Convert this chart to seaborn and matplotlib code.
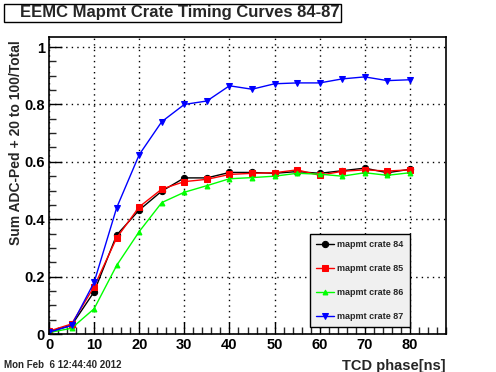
import matplotlib
matplotlib.use('Agg')
import matplotlib.pyplot as plt
from matplotlib.ticker import MultipleLocator
import seaborn as sns
import pandas as pd

# TCD phase scan values
phase = [0, 5, 10, 15, 20, 25, 30, 35, 40, 45, 50, 55, 60, 65, 70, 75, 80]
crate84 = [0.008, 0.030, 0.147, 0.345, 0.432, 0.498, 0.544, 0.544, 0.563, 0.563, 0.560,
           0.566, 0.560, 0.569, 0.578, 0.562, 0.574]
crate85 = [0.010, 0.035, 0.165, 0.335, 0.443, 0.505, 0.531, 0.539, 0.556, 0.560, 0.562,
           0.572, 0.553, 0.567, 0.572, 0.568, 0.572]
crate86 = [0.005, 0.020, 0.088, 0.239, 0.357, 0.458, 0.494, 0.517, 0.541, 0.545, 0.550,
           0.560, 0.557, 0.550, 0.562, 0.553, 0.562]
crate87 = [0.006, 0.030, 0.180, 0.440, 0.625, 0.740, 0.800, 0.812, 0.865, 0.853, 0.872,
           0.875, 0.875, 0.889, 0.896, 0.883, 0.886]
labels = ['mapmt crate 84', 'mapmt crate 85', 'mapmt crate 86', 'mapmt crate 87']

sns.set_theme(style='white')
plt.rcParams['font.family'] = ['Liberation Sans', 'DejaVu Sans']
plt.rcParams['font.weight'] = 'bold'

fig = plt.figure(figsize=(4.96, 3.72), dpi=100)
ax = fig.add_axes([49 / 496, 38 / 372, 397 / 496, 297 / 372])

styles = [('black', 'o', 4.5), ('red', 's', 4.5), ('#00ff00', '^', 3.5), ('blue', 'v', 4.5)]
for vals, lab, (col, mk, ms) in zip([crate84, crate85, crate86, crate87], labels, styles):
    df = pd.DataFrame({'phase': phase, 'val': vals})
    sns.lineplot(data=df, x='phase', y='val', ax=ax, color=col, marker=mk,
                 markersize=ms, markeredgecolor=col, linewidth=1, label=lab)

ax.set_xlim(0, 88)
ax.set_ylim(0, 1.035)
ax.xaxis.set_major_locator(MultipleLocator(10))
ax.xaxis.set_minor_locator(MultipleLocator(2))
ax.yaxis.set_minor_locator(MultipleLocator(0.05))
ax.set_yticks([0, 0.2, 0.4, 0.6, 0.8, 1.0])
ax.set_yticklabels(['0', '0.2', '0.4', '0.6', '0.8', '1'])
ax.tick_params(which='major', direction='in', length=9, width=1, labelsize=10.5,
               top=False, right=False, colors='black', pad=3)
ax.tick_params(which='minor', direction='in', length=5, width=1, top=False, right=False)
ax.tick_params(axis='x', which='both', bottom=True)
ax.tick_params(axis='y', which='both', left=True)
ax.grid(True, which='major', color='black', linestyle=(0, (1, 3)), linewidth=1)
for s in ax.spines.values():
    s.set_color('black')
    s.set_linewidth(1.2)

ax.set_xlabel('')
ax.set_ylabel('')
fig.text(446 / 496, 1 - 366 / 372, 'TCD phase[ns]', fontsize=10.5, fontweight='bold',
         ha='right', va='center')
fig.text(16 / 496, 1 - 40 / 372, 'Sum ADC-Ped + 20 to 100/Total', fontsize=10,
         fontweight='bold', ha='center', va='top', rotation=90)

leg = ax.legend(loc='lower left', bbox_to_anchor=(261 / 397, 7 / 297, 100 / 397, 95 / 297),
                mode='expand', fontsize=6.5, frameon=True, fancybox=False,
                handlelength=2.0, labelspacing=1.65, borderpad=0.7, handletextpad=0.3,
                borderaxespad=0)
leg.get_frame().set_facecolor('#f0f0f0')
leg.get_frame().set_edgecolor('black')
leg.get_frame().set_linewidth(1)
leg.get_frame().set_alpha(1)

fig.text(20 / 496, 1 - 13 / 372, 'EEMC Mapmt Crate Timing Curves 84-87', fontsize=12,
         fontweight='bold', va='center', ha='left')
fig.patches.append(plt.Rectangle((4 / 496, 1 - 22 / 372), 337 / 496, 18 / 372,
                                 transform=fig.transFigure, fill=False, edgecolor='black',
                                 linewidth=1))
fig.text(4 / 496, 1 - 365 / 372, 'Mon Feb  6 12:44:40 2012', fontsize=7,
         fontweight='bold', va='center', ha='left')

fig.savefig('out.png', dpi=100)
